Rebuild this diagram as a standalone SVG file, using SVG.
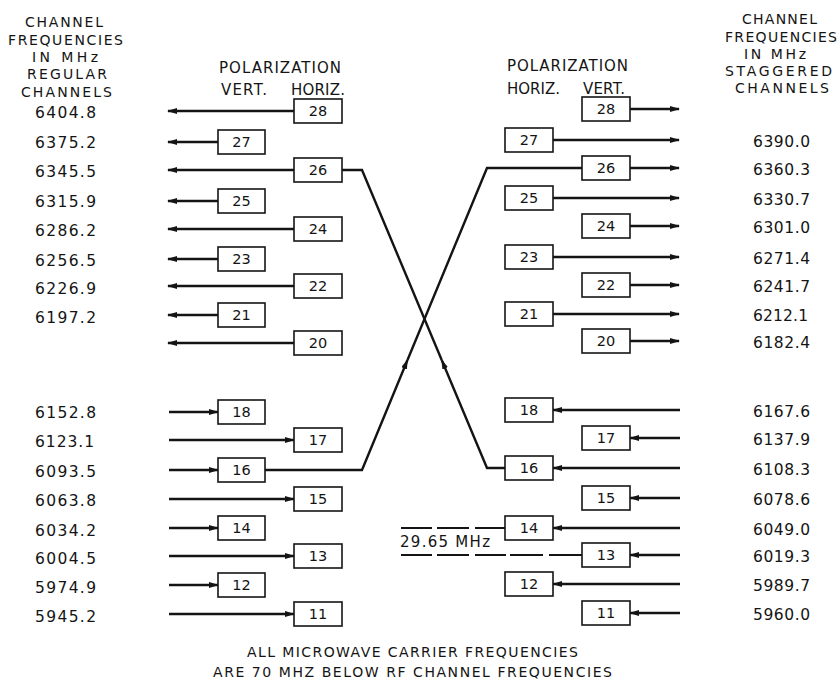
<svg xmlns="http://www.w3.org/2000/svg" width="839" height="681" viewBox="0 0 839 681">
<style>
text{font-family:"DejaVu Sans","Liberation Sans",Arial,sans-serif;fill:#141414}
.hd{font-size:14px}
.pl{font-size:15px}
.nt{font-size:14px}
.fq{font-size:15.5px}
.bn{font-size:14.5px;text-anchor:middle}
.box rect{fill:#fff;stroke:#141414;stroke-width:1.6}
.ln{fill:none;stroke:#141414;stroke-width:2.4}
.ar{marker-end:url(#ah)}
.dash{fill:none;stroke:#141414;stroke-width:2}
</style>
<defs>
<marker id="ah" viewBox="0 0 10 6" refX="9" refY="3" markerWidth="10" markerHeight="6" markerUnits="userSpaceOnUse" orient="auto">
<path d="M0,0 L10,3 L0,6 z" fill="#141414"/>
</marker>
</defs>
<rect width="839" height="681" fill="#fff"/>

<g id="headers">
<text class="hd" x="25" y="27" textLength="78" lengthAdjust="spacing">CHANNEL</text>
<text class="hd" x="8" y="45" textLength="115" lengthAdjust="spacing">FREQUENCIES</text>
<text class="hd" x="32" y="62" textLength="66" lengthAdjust="spacing">IN MHz</text>
<text class="hd" x="27" y="79" textLength="80" lengthAdjust="spacing">REGULAR</text>
<text class="hd" x="21" y="97" textLength="91" lengthAdjust="spacing">CHANNELS</text>
<text class="hd" x="742" y="24" textLength="75" lengthAdjust="spacing">CHANNEL</text>
<text class="hd" x="725" y="42" textLength="112" lengthAdjust="spacing">FREQUENCIES</text>
<text class="hd" x="744" y="59" textLength="62" lengthAdjust="spacing">IN MHz</text>
<text class="hd" x="725" y="76" textLength="107" lengthAdjust="spacing">STAGGERED</text>
<text class="hd" x="735" y="93" textLength="94" lengthAdjust="spacing">CHANNELS</text>
<text class="pl" x="219" y="73" textLength="122" lengthAdjust="spacing">POLARIZATION</text>
<text class="pl" x="221" y="95" textLength="46" lengthAdjust="spacing">VERT.</text>
<text class="pl" x="291" y="95" textLength="54" lengthAdjust="spacing">HORIZ.</text>
<text class="pl" x="507" y="71" textLength="121" lengthAdjust="spacing">POLARIZATION</text>
<text class="pl" x="507" y="94" textLength="53" lengthAdjust="spacing">HORIZ.</text>
<text class="pl" x="583" y="94" textLength="42" lengthAdjust="spacing">VERT.</text>
</g>

<g id="left-frequencies" class="fq">
<text x="35" y="118" textLength="61" lengthAdjust="spacing">6404.8</text>
<text x="35" y="148" textLength="61" lengthAdjust="spacing">6375.2</text>
<text x="35" y="177" textLength="61" lengthAdjust="spacing">6345.5</text>
<text x="35" y="207" textLength="61" lengthAdjust="spacing">6315.9</text>
<text x="35" y="236" textLength="61" lengthAdjust="spacing">6286.2</text>
<text x="35" y="266" textLength="61" lengthAdjust="spacing">6256.5</text>
<text x="35" y="294" textLength="61" lengthAdjust="spacing">6226.9</text>
<text x="35" y="323" textLength="61" lengthAdjust="spacing">6197.2</text>
<text x="35" y="418" textLength="61" lengthAdjust="spacing">6152.8</text>
<text x="35" y="447" textLength="59" lengthAdjust="spacing">6123.1</text>
<text x="35" y="477" textLength="61" lengthAdjust="spacing">6093.5</text>
<text x="35" y="506" textLength="61" lengthAdjust="spacing">6063.8</text>
<text x="35" y="536" textLength="61" lengthAdjust="spacing">6034.2</text>
<text x="35" y="564" textLength="61" lengthAdjust="spacing">6004.5</text>
<text x="35" y="593" textLength="61" lengthAdjust="spacing">5974.9</text>
<text x="35" y="622" textLength="61" lengthAdjust="spacing">5945.2</text>
</g>

<g id="right-frequencies" class="fq">
<text x="753" y="147" textLength="57" lengthAdjust="spacing">6390.0</text>
<text x="753" y="175" textLength="57" lengthAdjust="spacing">6360.3</text>
<text x="753" y="205" textLength="57" lengthAdjust="spacing">6330.7</text>
<text x="753" y="233" textLength="57" lengthAdjust="spacing">6301.0</text>
<text x="753" y="264" textLength="57" lengthAdjust="spacing">6271.4</text>
<text x="753" y="292" textLength="57" lengthAdjust="spacing">6241.7</text>
<text x="753" y="321" textLength="55" lengthAdjust="spacing">6212.1</text>
<text x="753" y="348" textLength="57" lengthAdjust="spacing">6182.4</text>
<text x="753" y="417" textLength="57" lengthAdjust="spacing">6167.6</text>
<text x="753" y="445" textLength="57" lengthAdjust="spacing">6137.9</text>
<text x="753" y="475" textLength="57" lengthAdjust="spacing">6108.3</text>
<text x="753" y="505" textLength="57" lengthAdjust="spacing">6078.6</text>
<text x="753" y="535" textLength="57" lengthAdjust="spacing">6049.0</text>
<text x="753" y="562" textLength="57" lengthAdjust="spacing">6019.3</text>
<text x="753" y="591" textLength="57" lengthAdjust="spacing">5989.7</text>
<text x="753" y="620" textLength="57" lengthAdjust="spacing">5960.0</text>
</g>

<g id="connectors">
<path class="ln ar" d="M294 111 H168"/>
<path class="ln ar" d="M218 142 H168"/>
<path class="ln ar" d="M294 170 H168"/>
<path class="ln ar" d="M218 201 H168"/>
<path class="ln ar" d="M294 229 H168"/>
<path class="ln ar" d="M218 259 H168"/>
<path class="ln ar" d="M294 286 H168"/>
<path class="ln ar" d="M218 315 H168"/>
<path class="ln ar" d="M294 343 H168"/>
<path class="ln ar" d="M169 412 H218"/>
<path class="ln ar" d="M169 440 H294"/>
<path class="ln ar" d="M169 470 H218"/>
<path class="ln ar" d="M169 499 H294"/>
<path class="ln ar" d="M169 528 H218"/>
<path class="ln ar" d="M169 556 H294"/>
<path class="ln ar" d="M169 585 H218"/>
<path class="ln ar" d="M169 614 H294"/>

<path class="ln ar" d="M630 109 H679"/>
<path class="ln ar" d="M553 140 H679"/>
<path class="ln ar" d="M630 168 H679"/>
<path class="ln ar" d="M553 198 H679"/>
<path class="ln ar" d="M630 226 H679"/>
<path class="ln ar" d="M553 257 H679"/>
<path class="ln ar" d="M630 285 H679"/>
<path class="ln ar" d="M553 314 H679"/>
<path class="ln ar" d="M630 341 H679"/>
<path class="ln ar" d="M680 410 H553"/>
<path class="ln ar" d="M680 438 H630"/>
<path class="ln ar" d="M680 468 H553"/>
<path class="ln ar" d="M680 498 H630"/>
<path class="ln ar" d="M680 528 H553"/>
<path class="ln ar" d="M680 555 H630"/>
<path class="ln ar" d="M680 584 H553"/>
<path class="ln ar" d="M680 613 H630"/>

<path class="ln ar" d="M265 470 H362 L407.5 360"/>
<path class="ln" d="M407.5 360 L487 168 H582"/>
<path class="ln ar" d="M505 468 H487 L441.7 360"/>
<path class="ln" d="M441.7 360 L362 170 H342"/>

<path class="dash" d="M401 528 H432 M437 528 H469 M475 528 H505"/>
<path class="dash" d="M401 555 H432 M437 555 H469 M475 555 H506 M510 555 H543 M549 555 H582"/>
</g>

<g id="left-boxes">
<g id="L28" class="box"><rect x="294" y="99" width="48" height="24"/><text class="bn" x="318" y="116">28</text></g>
<g id="L27" class="box"><rect x="218" y="130" width="47" height="24"/><text class="bn" x="241.5" y="147">27</text></g>
<g id="L26" class="box"><rect x="294" y="158" width="48" height="24"/><text class="bn" x="318" y="175">26</text></g>
<g id="L25" class="box"><rect x="218" y="189" width="47" height="24"/><text class="bn" x="241.5" y="206">25</text></g>
<g id="L24" class="box"><rect x="294" y="217" width="48" height="24"/><text class="bn" x="318" y="234">24</text></g>
<g id="L23" class="box"><rect x="218" y="247" width="47" height="24"/><text class="bn" x="241.5" y="264">23</text></g>
<g id="L22" class="box"><rect x="294" y="274" width="48" height="24"/><text class="bn" x="318" y="291">22</text></g>
<g id="L21" class="box"><rect x="218" y="303" width="47" height="24"/><text class="bn" x="241.5" y="320">21</text></g>
<g id="L20" class="box"><rect x="294" y="331" width="48" height="24"/><text class="bn" x="318" y="348">20</text></g>
<g id="L18" class="box"><rect x="218" y="400" width="47" height="24"/><text class="bn" x="241.5" y="417">18</text></g>
<g id="L17" class="box"><rect x="294" y="428" width="48" height="24"/><text class="bn" x="318" y="445">17</text></g>
<g id="L16" class="box"><rect x="218" y="458" width="47" height="24"/><text class="bn" x="241.5" y="475">16</text></g>
<g id="L15" class="box"><rect x="294" y="487" width="48" height="24"/><text class="bn" x="318" y="504">15</text></g>
<g id="L14" class="box"><rect x="218" y="516" width="47" height="24"/><text class="bn" x="241.5" y="533">14</text></g>
<g id="L13" class="box"><rect x="294" y="544" width="48" height="24"/><text class="bn" x="318" y="561">13</text></g>
<g id="L12" class="box"><rect x="218" y="573" width="47" height="24"/><text class="bn" x="241.5" y="590">12</text></g>
<g id="L11" class="box"><rect x="294" y="602" width="48" height="24"/><text class="bn" x="318" y="619">11</text></g>
</g>

<g id="right-boxes">
<g id="R28" class="box"><rect x="582" y="97" width="48" height="24"/><text class="bn" x="606" y="114">28</text></g>
<g id="R27" class="box"><rect x="505" y="128" width="48" height="24"/><text class="bn" x="529" y="145">27</text></g>
<g id="R26" class="box"><rect x="582" y="156" width="48" height="24"/><text class="bn" x="606" y="173">26</text></g>
<g id="R25" class="box"><rect x="505" y="186" width="48" height="24"/><text class="bn" x="529" y="203">25</text></g>
<g id="R24" class="box"><rect x="582" y="214" width="48" height="24"/><text class="bn" x="606" y="231">24</text></g>
<g id="R23" class="box"><rect x="505" y="245" width="48" height="24"/><text class="bn" x="529" y="262">23</text></g>
<g id="R22" class="box"><rect x="582" y="273" width="48" height="24"/><text class="bn" x="606" y="290">22</text></g>
<g id="R21" class="box"><rect x="505" y="302" width="48" height="24"/><text class="bn" x="529" y="319">21</text></g>
<g id="R20" class="box"><rect x="582" y="329" width="48" height="24"/><text class="bn" x="606" y="346">20</text></g>
<g id="R18" class="box"><rect x="505" y="398" width="48" height="24"/><text class="bn" x="529" y="415">18</text></g>
<g id="R17" class="box"><rect x="582" y="426" width="48" height="24"/><text class="bn" x="606" y="443">17</text></g>
<g id="R16" class="box"><rect x="505" y="456" width="48" height="24"/><text class="bn" x="529" y="473">16</text></g>
<g id="R15" class="box"><rect x="582" y="486" width="48" height="24"/><text class="bn" x="606" y="503">15</text></g>
<g id="R14" class="box"><rect x="505" y="516" width="48" height="24"/><text class="bn" x="529" y="533">14</text></g>
<g id="R13" class="box"><rect x="582" y="543" width="48" height="24"/><text class="bn" x="606" y="560">13</text></g>
<g id="R12" class="box"><rect x="505" y="572" width="48" height="24"/><text class="bn" x="529" y="589">12</text></g>
<g id="R11" class="box"><rect x="582" y="601" width="48" height="24"/><text class="bn" x="606" y="618">11</text></g>
</g>

<g id="notes">
<text class="pl" x="400" y="547" textLength="90" lengthAdjust="spacing">29.65 MHz</text>
<text class="nt" x="247" y="657" textLength="331" lengthAdjust="spacing">ALL MICROWAVE CARRIER FREQUENCIES</text>
<text class="nt" x="213" y="677" textLength="399" lengthAdjust="spacing">ARE 70 MHZ BELOW RF CHANNEL FREQUENCIES</text>
</g>
</svg>
